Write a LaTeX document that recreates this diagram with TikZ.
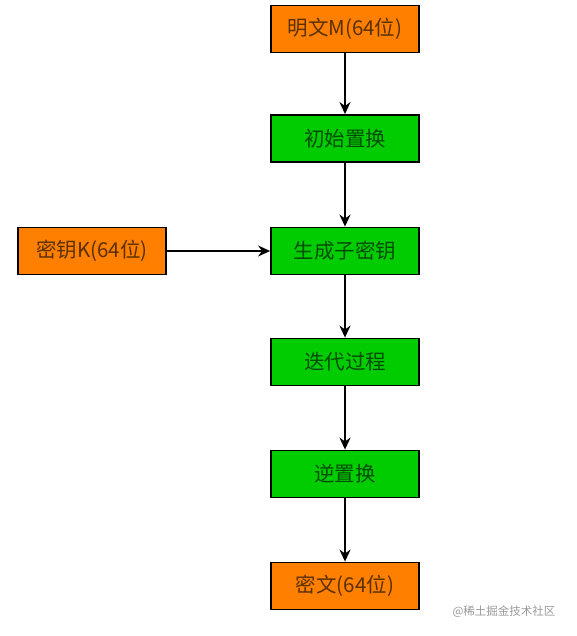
\documentclass[tikz,border=0pt]{standalone}
\usepackage{fontspec}
\setmainfont{Liberation Sans}
\newfontfamily\cjk{Noto Sans CJK SC}
\usetikzlibrary{arrows.meta,positioning}
\definecolor{boxorange}{HTML}{FF8000}
\definecolor{boxgreen}{HTML}{00CC00}
\definecolor{txtorange}{HTML}{5A3000}
\definecolor{txtgreen}{HTML}{004D00}
\tikzset{
  databox/.style={draw=black,line width=1.8pt,fill=boxorange,text=txtorange,
    minimum width=148pt,minimum height=47pt,inner sep=0pt,font=\cjk\fontsize{20.5}{22}\selectfont},
  stepbox/.style={databox,fill=boxgreen,text=txtgreen},
  flow/.style={-{Stealth[length=12pt,width=11pt]},line width=1.8pt}
}

\begin{document}
\begin{tikzpicture}[x=1pt,y=-1pt]
        \useasboundingbox (0,0) rectangle (576,636);
        \node[databox] (plain) at (345,29) {明文M(64位)};
        \node[stepbox] (ip) at (345,138.5) {初始置换};
        \node[stepbox] (keygen) at (345,251) {生成子密钥};
        \node[databox] (key) at (92,251) {密钥K(64位)};
        \node[stepbox] (iter) at (345,362) {迭代过程};
        \node[stepbox] (invip) at (345,474) {逆置换};
        \node[databox] (cipher) at (345,586) {密文(64位)};
        \draw[flow] (plain) -- (ip);
        \draw[flow] (ip) -- (keygen);
        \draw[flow] (key) -- (keygen);
        \draw[flow] (keygen) -- (iter);
        \draw[flow] (iter) -- (invip);
        \draw[flow] (invip) -- (cipher);
        \node[text=black!40,font=\cjk\fontsize{11.5}{12}\selectfont,anchor=east] (mark) at (559,612) {@稀土掘金技术社区};
      \end{tikzpicture}
\end{document}
